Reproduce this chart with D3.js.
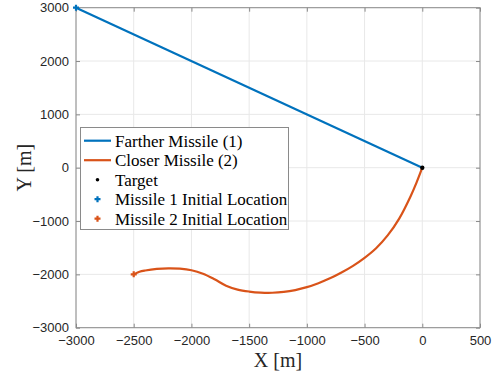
<!DOCTYPE html>
<html>
<head>
<meta charset="utf-8">
<script src="https://cdn.jsdelivr.net/npm/d3@7"></script>
<style>
  html, body { margin: 0; padding: 0; background: #fff; }
  svg { display: block; }
</style>
</head>
<body>
<svg id="chart" width="497" height="378"></svg>
<script>
// Missile 1: straight path to the target
const missile1X = [-3000, 0];
const missile1Y = [3000, 0];

// Missile 2: curved pursuit path to the target
const missile2X = [-2500, -2450, -2400, -2300, -2200, -2100, -2000, -1900, -1800, -1700, -1600, -1500, -1400, -1300, -1200, -1100, -1000, -900, -800, -700, -600, -500, -400, -300, -200, -100, -50, 0];
const missile2Y = [-2000, -1952, -1928, -1898, -1886, -1893, -1922, -1988, -2092, -2212, -2285, -2322, -2342, -2345, -2330, -2295, -2240, -2165, -2075, -1965, -1840, -1690, -1510, -1270, -955, -530, -280, 0];

const targetXY = [0, 0];

const xTicks = [-3000, -2500, -2000, -1500, -1000, -500, 0, 500];
const yTicks = [-3000, -2000, -1000, 0, 1000, 2000, 3000];

const legendLabels = ["Farther Missile (1)", "Closer Missile (2)", "Target", "Missile 1 Initial Location", "Missile 2 Initial Location"];

const blue = "#0072BD", orange = "#D95319";

const svg = d3.select("#chart");
const plot = { left: 76, right: 480, top: 7.7, bottom: 327.7 };

const x = d3.scaleLinear().domain([-3000, 500]).range([plot.left, plot.right]);
const y = d3.scaleLinear().domain([-3000, 3000]).range([plot.bottom, plot.top]);

// grid
const grid = svg.append("g").attr("stroke", "#e8e8e8").attr("stroke-width", 1);
xTicks.forEach(t => grid.append("line").attr("x1", x(t)).attr("x2", x(t)).attr("y1", plot.top).attr("y2", plot.bottom));
yTicks.forEach(t => grid.append("line").attr("y1", y(t)).attr("y2", y(t)).attr("x1", plot.left).attr("x2", plot.right));

// axes
const axisColor = "#8a8a8a";
const fontSans = "'Liberation Sans', Arial, Helvetica, sans-serif";
const fontSerif = "'Liberation Serif', 'Times New Roman', serif";

function styleAxis(g, showText) {
  g.select(".domain").remove();
  g.selectAll(".tick line").attr("stroke", axisColor);
  g.selectAll(".tick text")
    .attr("fill", "#262626")
    .style("font-family", fontSans)
    .style("font-size", "13px")
    .style("display", showText ? null : "none");
}

svg.append("g").attr("transform", `translate(0,${plot.bottom})`)
  .call(d3.axisBottom(x).tickValues(xTicks).tickFormat(d3.format("d")).tickSizeInner(-4).tickSizeOuter(0).tickPadding(8))
  .call(g => styleAxis(g, true));
svg.append("g").attr("transform", `translate(0,${plot.top})`)
  .call(d3.axisTop(x).tickValues(xTicks).tickSizeInner(-4).tickSizeOuter(0))
  .call(g => styleAxis(g, false));
svg.append("g").attr("transform", `translate(${plot.left},0)`)
  .call(d3.axisLeft(y).tickValues(yTicks).tickFormat(d3.format("d")).tickSizeInner(-4).tickSizeOuter(0).tickPadding(7))
  .call(g => styleAxis(g, true));
svg.append("g").attr("transform", `translate(${plot.right},0)`)
  .call(d3.axisRight(y).tickValues(yTicks).tickSizeInner(-4).tickSizeOuter(0))
  .call(g => styleAxis(g, false));

svg.append("rect")
  .attr("x", plot.left).attr("y", plot.top)
  .attr("width", plot.right - plot.left).attr("height", plot.bottom - plot.top)
  .attr("fill", "none").attr("stroke", axisColor).attr("stroke-width", 1);

// axis labels
svg.append("text").attr("x", (plot.left + plot.right) / 2).attr("y", 367)
  .attr("text-anchor", "middle").attr("fill", "#262626")
  .style("font-family", fontSerif).style("font-size", "20px").text("X [m]");
svg.append("text")
  .attr("transform", `translate(31,${(plot.top + plot.bottom) / 2}) rotate(-90)`)
  .attr("text-anchor", "middle").attr("fill", "#262626")
  .style("font-family", fontSerif).style("font-size", "20px").text("Y [m]");

// trajectories
const path1 = missile1X.map((v, i) => [v, missile1Y[i]]);
const path2 = missile2X.map((v, i) => [v, missile2Y[i]]);

const paths = svg.append("g");
paths.append("path")
  .attr("d", d3.line().x(d => x(d[0])).y(d => y(d[1]))(path1))
  .attr("fill", "none").attr("stroke", blue).attr("stroke-width", 2.2);
paths.append("path")
  .attr("d", d3.line().x(d => x(d[0])).y(d => y(d[1])).curve(d3.curveCatmullRom.alpha(0.5))(path2))
  .attr("fill", "none").attr("stroke", orange).attr("stroke-width", 2.2);

// markers
function plus(g, cx, cy, color, s) {
  g.append("path").attr("d", `M${cx - s},${cy}H${cx + s}M${cx},${cy - s}V${cy + s}`)
    .attr("stroke", color).attr("stroke-width", 2.2).attr("fill", "none");
}
plus(svg, x(path1[0][0]), y(path1[0][1]), blue, 3);
plus(svg, x(path2[0][0]), y(path2[0][1]), orange, 3);
svg.append("circle").attr("cx", x(targetXY[0])).attr("cy", y(targetXY[1])).attr("r", 2.2).attr("fill", "#000");

// legend
const lg = svg.append("g");
lg.append("rect").attr("x", 80.5).attr("y", 127.5).attr("width", 208).attr("height", 102)
  .attr("fill", "#fff").attr("stroke", axisColor).attr("stroke-width", 1);
const rowY = i => 140.7 + i * 19.5;
legendLabels.forEach((label, i) => {
  const cy = rowY(i);
  if (i === 0 || i === 1) {
    lg.append("line").attr("x1", 84).attr("x2", 111).attr("y1", cy).attr("y2", cy)
      .attr("stroke", i === 0 ? blue : orange).attr("stroke-width", 2.2);
  } else if (i === 2) {
    lg.append("circle").attr("cx", 97.5).attr("cy", cy).attr("r", 1.8).attr("fill", "#000");
  } else {
    plus(lg, 97.5, cy, i === 3 ? blue : orange, 3);
  }
  lg.append("text").attr("x", 115).attr("y", cy + 6)
    .attr("fill", "#000").style("font-family", fontSerif).style("font-size", "17px").text(label);
});
</script>
</body>
</html>
